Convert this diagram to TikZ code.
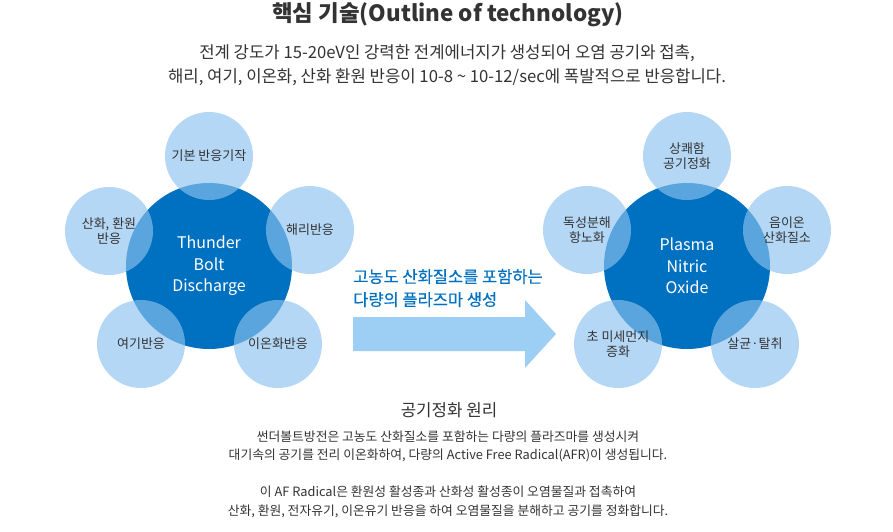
\documentclass[tikz,border=0pt]{standalone}
\usepackage{fontspec}
\setmainfont{Noto Sans CJK KR}
\newfontfamily\mediumfont[FakeBold=0.35]{Noto Sans CJK KR}
\usetikzlibrary{positioning}

\definecolor{coreblue}{RGB}{0,112,192}
\definecolor{petalblue}{RGB}{140,194,240}
\definecolor{arrowblue}{RGB}{157,207,245}
\definecolor{textgray}{RGB}{51,51,51}

\begin{document}
\begin{tikzpicture}[
    % one unit = one pixel of the 893x531 layout, y pointing down
    x=1pt,
    y=-1pt,
    core/.style={circle, fill=coreblue, minimum size=166pt, inner sep=0pt,
        text=white, align=center, font=\fontsize{16}{21.5}\selectfont},
    petal/.style={circle, fill=petalblue, fill opacity=0.65, text opacity=1,
        minimum size=88pt, inner sep=0pt, text=textgray, align=center,
        font=\fontsize{13}{15}\selectfont},
    bodytext/.style={text=textgray, align=center, font=\fontsize{12.8}{18.5}\selectfont}
]
    \useasboundingbox (0,0) rectangle (893,531);

    % --- Heading ---
    \node[text=textgray, font=\fontsize{22.4}{26}\selectfont\bfseries] (title) at (448,15)
        {핵심 기술(Outline of technology)};
    \node[text=textgray, align=center, font=\fontsize{16.7}{24}\selectfont] (intro) at (447,65)
        {전계 강도가 15-20eV인 강력한 전계에너지가 생성되어 오염 공기와 접촉,\\
         해리, 여기, 이온화, 산화 환원 반응이 10-8 \textasciitilde{} 10-12/sec에 폭발적으로 반응합니다.};

    % --- Left cluster: discharge ---
    \node[core] (tb) at (209,266) {Thunder\\Bolt\\Discharge};
    \node[petal] (tb-top) at (209,156) {기본 반응기작};
    \node[petal] (tb-right) at (310,230) {해리반응};
    \node[petal] (tb-left) at (109,231) {산화, 환원\\반응};
    \node[petal] (tb-bl) at (141,344) {여기반응};
    \node[petal] (tb-br) at (278,344) {이온화반응};

    % --- Arrow between the clusters ---
    \fill[arrowblue] (353,317) -- (525,317) -- (525,300) -- (556,334)
        -- (525,368) -- (525,351) -- (353,351) -- cycle;
    \node[anchor=west, align=left, text=coreblue, inner sep=0pt,
        font=\mediumfont\fontsize{16.5}{23}\selectfont] (arrowtext) at (353,288)
        {고농도 산화질소를 포함하는\\다량의 플라즈마 생성};

    % --- Right cluster: plasma nitric oxide ---
    \node[core] (pno) at (687,266) {Plasma\\Nitric\\Oxide};
    \node[petal] (pno-top) at (687,156) {상쾌함\\공기정화};
    \node[petal] (pno-right) at (787,230) {음이온\\산화질소};
    \node[petal] (pno-left) at (587,230) {독성분해\\항노화};
    \node[petal] (pno-bl) at (618,344) {초 미세먼지\\증화};
    \node[petal] (pno-br) at (755,344) {살균·탈취};

    % --- Principle ---
    \node[text=textgray, font=\fontsize{16.8}{20}\selectfont] (principle) at (449,410) {공기정화 원리};
    \node[bodytext] (para1) at (448,446.5)
        {썬더볼트방전은 고농도 산화질소를 포함하는 다량의 플라즈마를 생성시켜\\
         대기속의 공기를 전리 이온화하여, 다량의 Active Free Radical(AFR)이 생성됩니다.};
    \node[bodytext] (para2) at (448,502)
        {이 AF Radical은 환원성 활성종과 산화성 활성종이 오염물질과 접촉하여\\
         산화, 환원, 전자유기, 이온유기 반응을 하여 오염물질을 분해하고 공기를 정화합니다.};

\end{tikzpicture}
\end{document}
